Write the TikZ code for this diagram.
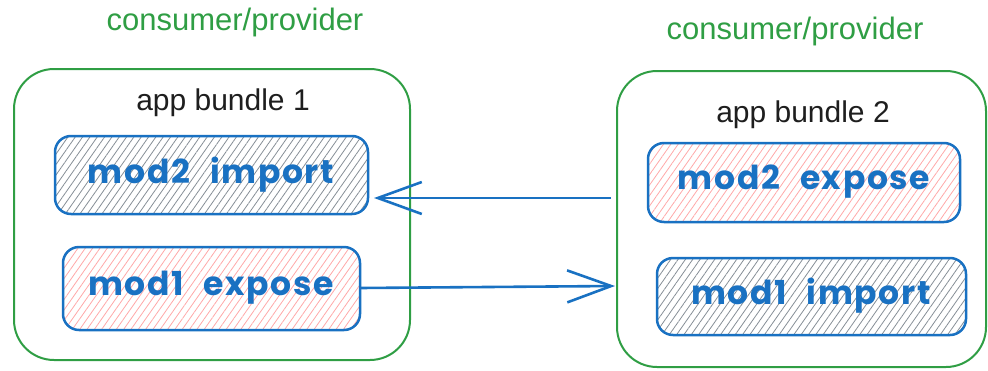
\documentclass[tikz,border=0pt]{standalone}
\usepackage{fontspec}
\setmainfont{Liberation Sans}
\newfontfamily\handfont{Poppins}[LetterSpace=5]
\usetikzlibrary{arrows.meta,patterns.meta}
\definecolor{exgreen}{HTML}{2F9E44}
\definecolor{exblue}{HTML}{1971C2}
\definecolor{exdark}{HTML}{1E1E1E}
\definecolor{expink}{HTML}{FFA8A8}
\definecolor{exgray}{HTML}{868E96}
\newcommand{\wgap}{\hspace{20pt}}
\tikzset{
  bundle/.style={draw=exgreen, line width=2pt, rounded corners=40pt},
  title/.style={text=exgreen, font=\fontsize{31}{36}\selectfont},
  bundlelabel/.style={text=exdark, font=\fontsize{30}{36}\selectfont},
  modbox/.style={draw=exblue, line width=2.5pt, rounded corners=16pt},
  exposefill/.style={pattern={Lines[angle=55,distance=6pt,line width=0.8pt]}, pattern color=expink},
  importfill/.style={pattern={Lines[angle=55,distance=6pt,line width=0.8pt]}, pattern color=exgray},
  modtext/.style={text=exblue, font=\handfont\bfseries\fontsize{33}{36}\selectfont},
  arr/.style={draw=exblue, line width=2.6pt, -{Straight Barb[length=44pt,width=32pt,line width=2.6pt]}}
}
\begin{document}
\begin{tikzpicture}[x=1pt,y=-1pt]
\useasboundingbox (0,0) rectangle (988,370);
% left bundle
\draw[bundle] (14,69) rectangle (410,360);
\node[title] (t1) at (235,22) {consumer/provider};
\node[bundlelabel] (b1) at (223,103) {app bundle 1};
\draw[modbox, importfill] (55,136) rectangle (368,214);
\node[modtext] (m2i) at (211,175) {mod2\wgap import};
\draw[modbox, exposefill] (63,247) rectangle (360,330);
\node[modtext] (m1e) at (211,288) {mod1\wgap expose};
\coordinate (m1eE) at (360,288);
% right bundle
\draw[bundle] (617,71) rectangle (986,367);
\node[title] (t2) at (795,31) {consumer/provider};
\node[bundlelabel] (b2) at (803,115) {app bundle 2};
\draw[modbox, exposefill] (648,143) rectangle (960,222);
\node[modtext] (m2e) at (804,182) {mod2\wgap expose};
\draw[modbox, importfill] (657,258) rectangle (966,335);
\node[modtext] (m1i) at (811,296) {mod1\wgap import};
% arrows
\coordinate (a1s) at (611,198);
\coordinate (a1e) at (374,198);
\draw[arr] (a1s) -- (a1e);
\coordinate (a2e) at (615,286);
\draw[arr] (m1eE) -- (a2e);
\end{tikzpicture}
\end{document}
